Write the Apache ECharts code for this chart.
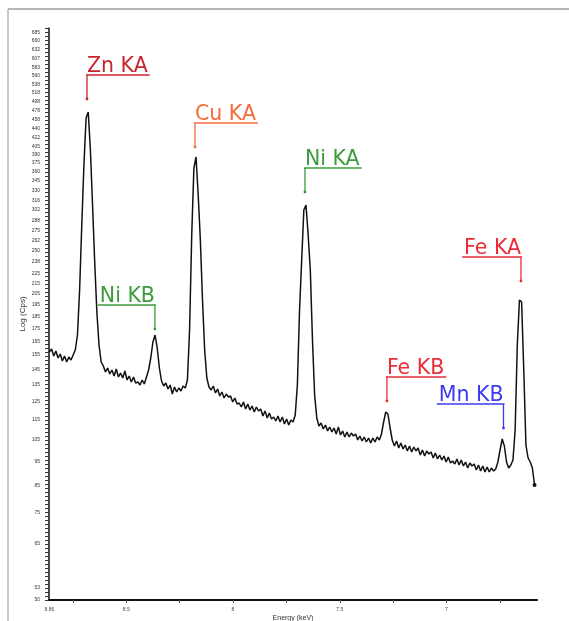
<!DOCTYPE html>
<html><head><meta charset="utf-8">
<script src="https://cdn.jsdelivr.net/npm/echarts@6/dist/echarts.min.js"></script>
<style>html,body{margin:0;background:#fff}#c{width:569px;height:621px}</style>
</head><body><div id="c"></div>
<script>
/* espectro XRF — Log (Cps) vs energía, eje invertido */
const E0 = 8.86, DE = 0.0101;   // calibración de canales (keV)
const logCps = [
  2.196,2.202,2.188,2.198,2.184,2.192,2.178,2.188,2.176,2.186,
  2.180,2.190,2.200,2.230,2.320,2.450,2.570,2.664,2.676,2.600,
  2.490,2.376,2.276,2.210,2.176,2.168,2.156,2.164,2.152,2.160,
  2.148,2.162,2.146,2.154,2.144,2.158,2.140,2.148,2.136,2.146,
  2.134,2.136,2.130,2.140,2.132,2.146,2.160,2.184,2.216,2.230,
  2.204,2.164,2.138,2.128,2.134,2.122,2.130,2.112,2.126,2.116,
  2.124,2.118,2.128,2.124,2.140,2.240,2.430,2.564,2.586,2.510,
  2.420,2.300,2.200,2.144,2.126,2.120,2.128,2.114,2.122,2.108,
  2.116,2.104,2.112,2.106,2.108,2.096,2.104,2.092,2.094,2.086,
  2.096,2.082,2.092,2.080,2.088,2.076,2.086,2.078,2.082,2.068,
  2.078,2.064,2.074,2.062,2.066,2.058,2.068,2.056,2.066,2.052,
  2.062,2.050,2.060,2.056,2.070,2.130,2.280,2.380,2.480,2.490,
  2.430,2.360,2.220,2.110,2.064,2.048,2.054,2.042,2.050,2.038,
  2.046,2.036,2.044,2.032,2.046,2.030,2.038,2.026,2.036,2.026,
  2.034,2.028,2.032,2.020,2.028,2.018,2.026,2.016,2.024,2.014,
  2.024,2.016,2.026,2.020,2.032,2.056,2.076,2.072,2.044,2.020,
  2.008,2.018,2.004,2.014,2.002,2.010,1.998,2.008,1.996,2.006,
  1.998,2.004,1.990,2.000,1.988,1.998,1.992,1.996,1.984,1.994,
  1.982,1.990,1.980,1.988,1.976,1.986,1.974,1.978,1.972,1.982,
  1.970,1.980,1.968,1.976,1.964,1.974,1.968,1.972,1.960,1.970,
  1.958,1.968,1.956,1.966,1.956,1.964,1.958,1.962,1.976,2.000,
  2.022,2.008,1.976,1.964,1.970,1.980,2.040,2.210,2.300,2.296,
  2.160,2.010,1.984,1.976,1.964,1.930
];
const xLabels = [8.86, 8.5, 8.0, 7.5, 7.0];
const xTicks = [8.75, 8.5, 8.25, 8.0, 7.75, 7.5, 7.25, 7.0, 6.75];
const yLabelCps = [50,53,65,75,85,95,105,115,125,135,145,155,165,175,185,195,205,215,225,238,
  250,262,275,288,302,316,330,345,360,375,390,405,422,440,458,478,498,518,538,560,583,607,632,660,685];
const annNames  = ["Zn KA","Ni KB","Cu KA","Ni KA","Fe KB","Mn KB","Fe KA"];
const annEnergy = [8.684, 8.366, 8.178, 7.663, 7.279, 6.733, 6.651];
const annLevel  = [2.750, 2.290, 2.654, 2.564, 2.146, 2.092, 2.386];
const annSide   = [1, -1, 1, 1, 1, -1, -1];
const annColor  = ["#c8262e","#3c9c3c","#f46c3c","#3c9c3c","#ea2c36","#3a3aee","#ea2c36"];

const YMIN = 1.7, YMAX = 2.844;
const spec = logCps.map((v,i)=>[+(E0 - i*DE).toFixed(4), v]);
const yTicks = [];
for(let v=YMIN; v<=YMAX+1e-9; v+=0.008) yTicks.push(+v.toFixed(3));

const ANN_FONT = '20.5px "DejaVu Sans", sans-serif';
const ctx = document.createElement("canvas").getContext("2d");
function renderAnn(params, api){
  const i = params.dataIndex;
  const p = api.coord([api.value(0), api.value(1)]);
  ctx.font = ANN_FONT;
  const w = ctx.measureText(annNames[i]).width + 2;
  const s = annSide[i], c = annColor[i];
  return {type:"group", children:[
    {type:"line", shape:{x1:p[0]-s, y1:p[1], x2:p[0]+s*w, y2:p[1]}, style:{stroke:c, lineWidth:1.3}},
    {type:"line", shape:{x1:p[0], y1:p[1], x2:p[0], y2:p[1]+24}, style:{stroke:c, lineWidth:1.3}},
    {type:"circle", shape:{cx:p[0], cy:p[1]+24, r:1.4}, style:{fill:c}},
    {type:"text", x:p[0], y:p[1]+2, style:{text:annNames[i], fill:c, font:ANN_FONT,
      align:s>0?"left":"right", verticalAlign:"bottom"}}
  ]};
}

const chart = echarts.init(document.getElementById("c"), null, {renderer:"canvas"});
chart.setOption({
  animation:false,
  backgroundColor:"#fff",
  textStyle:{fontFamily:"Liberation Sans, Arial, sans-serif"},
  grid:{left:49, right:32, top:28, bottom:21, outerBoundsMode:"none"},
  graphic:[
    {type:"line", shape:{x1:8, y1:9, x2:569, y2:9}, style:{stroke:"#9c9c9c", lineWidth:1.6}},
    {type:"line", shape:{x1:8, y1:9, x2:8, y2:621}, style:{stroke:"#b4b4b4", lineWidth:1.4}}
  ],
  xAxis:{
    type:"value", inverse:true, min:6.576, max:8.862,
    name:"Energy (keV)", nameLocation:"middle", nameGap:15, nameMoveOverlap:false,
    nameTextStyle:{fontSize:7, color:"#333"},
    axisLine:{onZero:false, lineStyle:{color:"#111", width:2}},
    axisTick:{customValues:xTicks, length:3, lineStyle:{color:"#555"}},
    axisLabel:{customValues:xLabels, fontSize:5, color:"#444", margin:7,
      formatter:v=>String(+v.toFixed(2))},
    splitLine:{show:false}
  },
  yAxis:{
    type:"value", min:YMIN, max:YMAX,
    name:"Log (Cps)", nameLocation:"middle", nameGap:22, nameRotate:90, nameMoveOverlap:false,
    nameTextStyle:{fontSize:8, color:"#333"},
    axisLine:{show:true, onZero:false, lineStyle:{color:"#111", width:1.5}},
    axisTick:{customValues:yTicks, length:4, lineStyle:{color:"#333"}},
    axisLabel:{customValues:yLabelCps.map(c=>Math.max(YMIN, Math.log10(c))), fontSize:5, color:"#333", margin:9,
      formatter:v=>String(Math.round(Math.pow(10,v)))},
    splitLine:{show:false}
  },
  series:[
    {type:"line", data:spec, showSymbol:false, lineStyle:{color:"#111", width:1.5},
      markPoint:{symbol:"circle", symbolSize:4, itemStyle:{color:"#111"}, label:{show:false},
        data:[{coord:spec[spec.length-1]}]}},
    {type:"custom", renderItem:renderAnn, clip:false,
      data:annEnergy.map((e,i)=>[e, annLevel[i]])}
  ]
});
</script>
</body></html>
